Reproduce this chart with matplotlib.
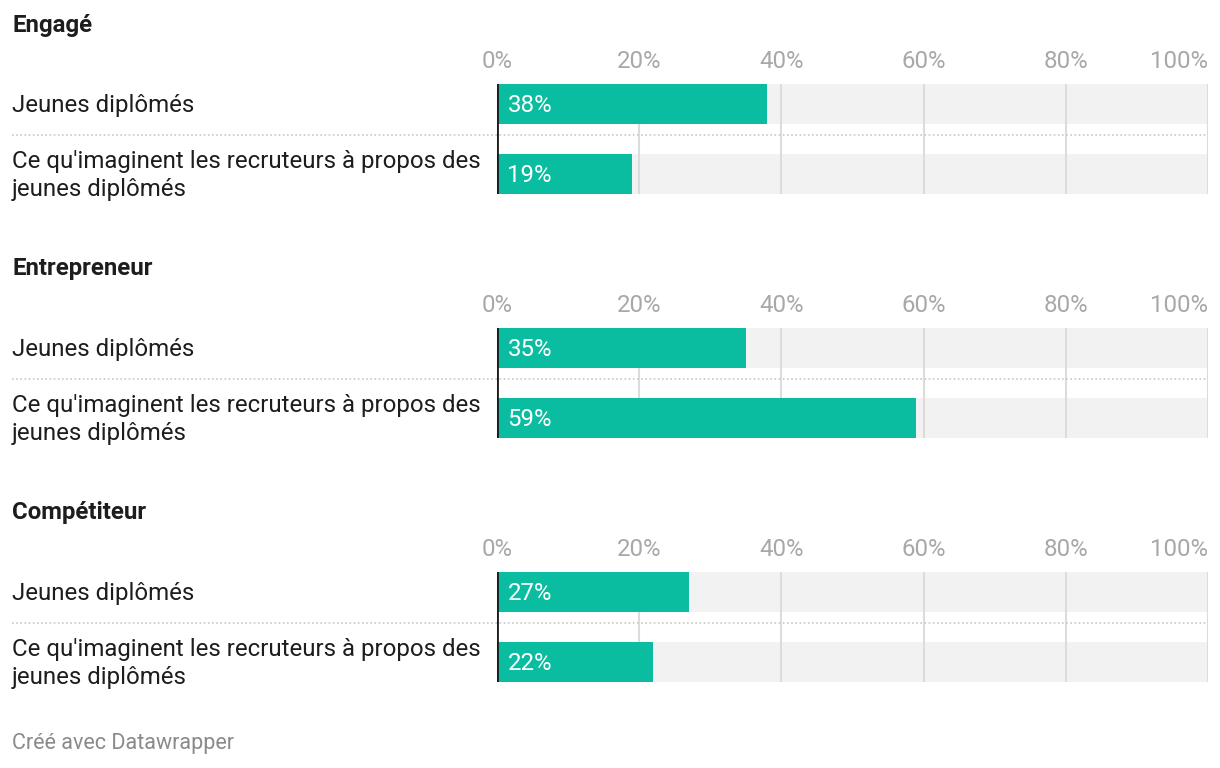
import matplotlib.pyplot as plt

plt.rcParams['font.family'] = ['Roboto', 'DejaVu Sans']

groups = ['Engagé', 'Entrepreneur', 'Compétiteur']
labels = ['Jeunes diplômés',
          "Ce qu'imaginent les recruteurs à propos des\njeunes diplômés"]
values = [[38, 19], [35, 59], [27, 22]]
ticks = [0, 20, 40, 60, 80, 100]
tick_labels = ['0%', '20%', '40%', '60%', '80%', '100%']

TEAL = '#0bbda0'
BG = '#f2f2f2'
GRID = '#dcdcdc'
W, H = 1220, 768
FS = 17.3

fig = plt.figure(figsize=(W / 100, H / 100), dpi=100)

x0, x1 = 497, 1208
label_x = (12 - x0) / (x1 - x0)

for i, (group, vals) in enumerate(zip(groups, values)):
    top = 84 + i * 244
    bottom = top + 110
    ax = fig.add_axes([x0 / W, 1 - bottom / H, (x1 - x0) / W, 110 / H])
    pos = [0, 1]
    h = 40 / 70
    ax.barh(pos, [100, 100], height=h, color=BG, zorder=1)
    for t in ticks[1:]:
        ax.axvline(t, color=GRID, lw=1.5, zorder=2)
    ax.barh(pos, vals, height=h, color=TEAL, zorder=3)
    ax.axvline(0, color='#1a1a1a', lw=2, zorder=4)
    ax.set_xlim(0, 100)
    ax.set_ylim(0.5 + 55 / 70, 0.5 - 55 / 70)

    for p, v in zip(pos, vals):
        ax.annotate(f'{v}%', (0, p), xytext=(7.5, -1), textcoords='offset points',
                    color='white', fontsize=FS, va='center', ha='left', zorder=5)
    for p, lab in zip(pos, labels):
        ax.annotate(lab, (label_x, p), xycoords=ax.get_yaxis_transform(),
                    xytext=(0, -1), textcoords='offset points',
                    fontsize=FS, color='#1d1d1d', va='center', ha='left',
                    linespacing=1.32, annotation_clip=False)

    # dotted separator between rows
    ax.plot([label_x, 1], [0.44, 0.44], transform=ax.get_yaxis_transform(),
            color='#c8c8c8', lw=1.2, ls=(0, (1, 1.5)), clip_on=False, zorder=2)

    ax.text(label_x, 1 + 59 / 110, group, transform=ax.transAxes,
            fontsize=FS, fontweight='bold', color='#1d1d1d', va='center', ha='left')

    ax.xaxis.tick_top()
    ax.set_xticks(ticks)
    ax.set_xticklabels(tick_labels, fontsize=FS, color='#a8a8a8')
    ax.tick_params(axis='x', length=0, pad=7.8)
    ax.get_xticklabels()[-1].set_ha('right')
    ax.set_yticks([])
    for s in ax.spines.values():
        s.set_visible(False)

fig.text(12 / W, 1 - 743.5 / H, 'Créé avec Datawrapper', fontsize=15.5,
         color='#8a8a8a', va='center', ha='left')

fig.savefig('out.png', dpi=100)
